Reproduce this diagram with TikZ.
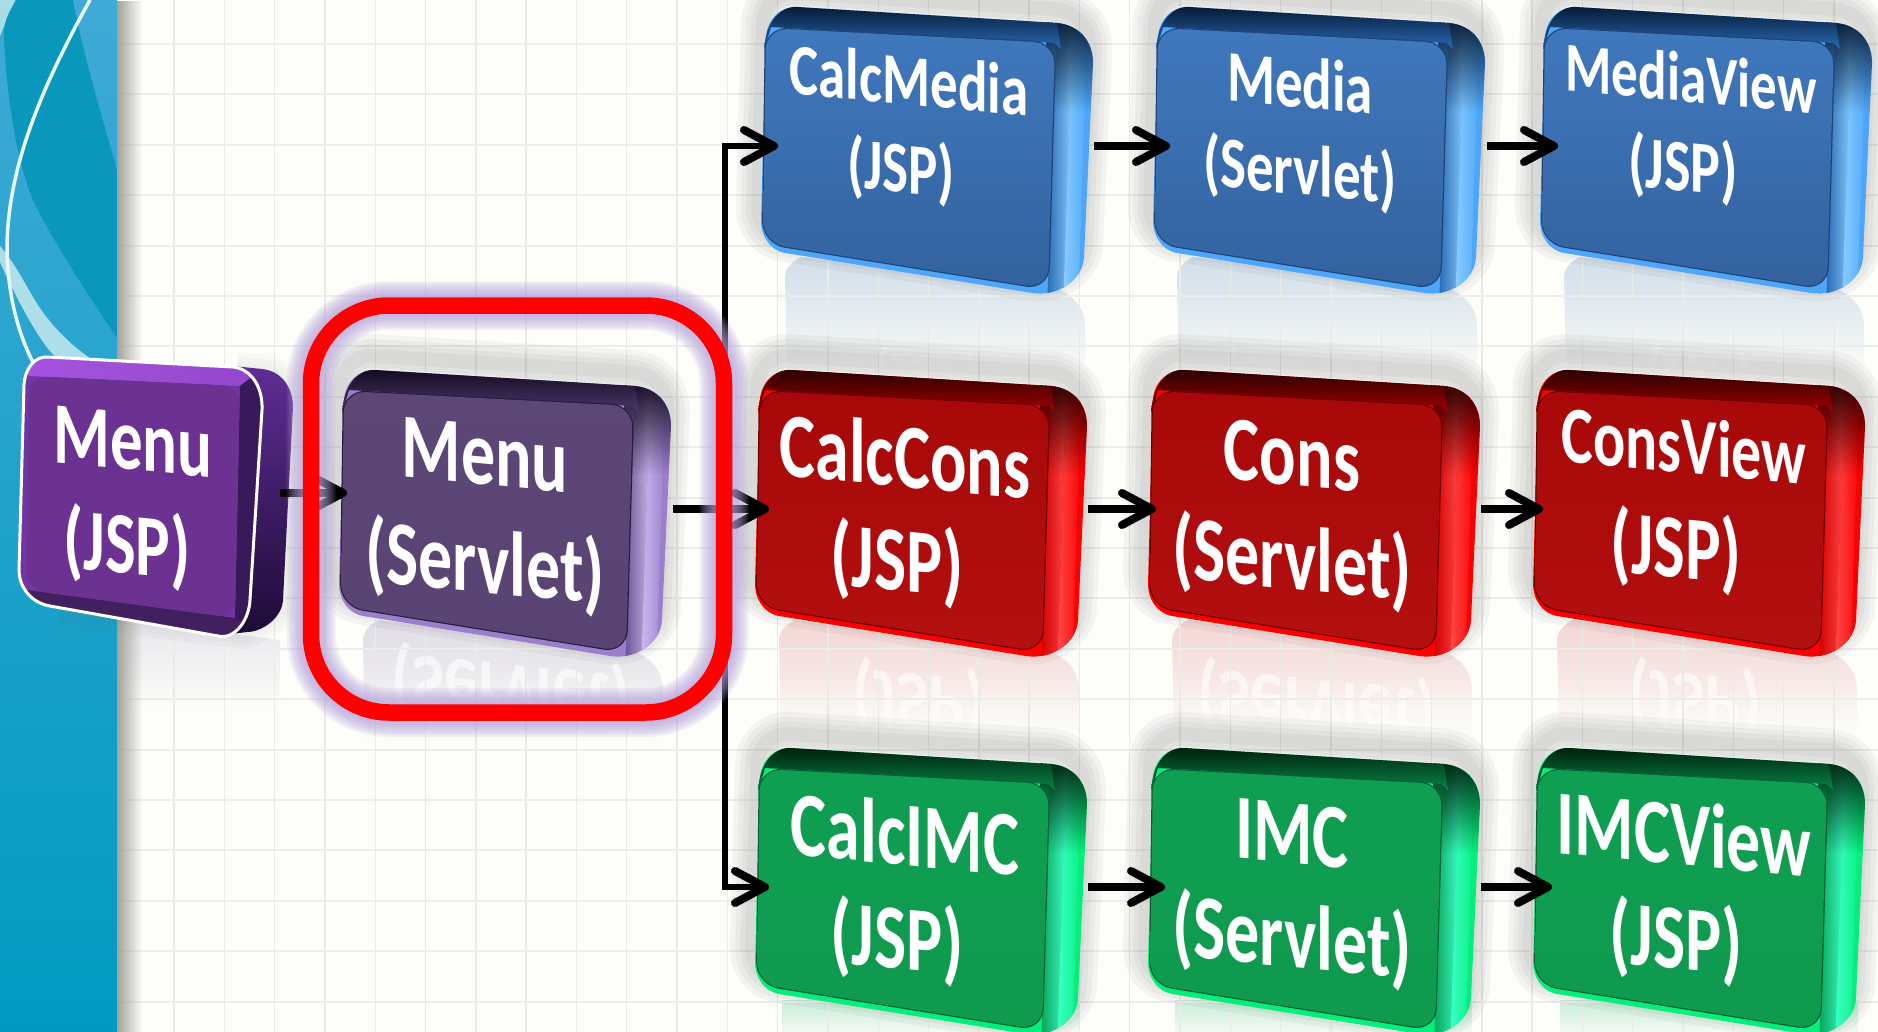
\documentclass[tikz,border=0pt]{standalone}
\usepackage{fontspec}
\setmainfont{Carlito}
\usetikzlibrary{arrows.meta,fadings}
% palettes
\definecolor{pagebg}{HTML}{FDFEFA}
\definecolor{gridc}{HTML}{EAEBE6}
\definecolor{bandtop}{HTML}{3FAAD6}\definecolor{bandbot}{HTML}{009AC0}\definecolor{bandpale}{HTML}{A9DDE6}
\definecolor{banddeep}{HTML}{0A97BC}\definecolor{bandwash}{HTML}{AEDFE8}\definecolor{bandarc}{HTML}{E8F7FB}
\definecolor{bandshadow}{HTML}{A3A39B}
\definecolor{jspside}{HTML}{5F2D94}\definecolor{jspsidem}{HTML}{2C134A}\definecolor{jspsideb}{HTML}{1D0B36}
\definecolor{jspleft}{HTML}{7236A3}\definecolor{jsptopa}{HTML}{A855E2}\definecolor{jsptopb}{HTML}{8F45C6}
\definecolor{jspbot}{HTML}{40205F}\definecolor{jspright}{HTML}{38195A}\definecolor{jspface}{HTML}{6B3292}
\definecolor{jsprefl}{HTML}{E8E6EE}
\definecolor{blueside}{HTML}{4DA6FA}\definecolor{bluedark}{HTML}{061A33}\definecolor{bluemid}{HTML}{2A6CBA}
\definecolor{bluefacet}{HTML}{4078BD}\definecolor{bluefaceb}{HTML}{33629E}\definecolor{blueline}{HTML}{1D4474}
\definecolor{bluehi}{HTML}{8ACDFF}\definecolor{blueshade}{HTML}{2A6AB4}\definecolor{bluerefl}{HTML}{D2DEEA}
\definecolor{redside}{HTML}{FA0000}\definecolor{reddark}{HTML}{250000}\definecolor{redmid}{HTML}{A80000}
\definecolor{redfacet}{HTML}{A80808}\definecolor{redfaceb}{HTML}{B31010}\definecolor{redline}{HTML}{6E0000}
\definecolor{redhi}{HTML}{FF4A4A}\definecolor{redshade}{HTML}{D40000}\definecolor{redrefl}{HTML}{F3D6D4}
\definecolor{greenside}{HTML}{04EE7C}\definecolor{greendark}{HTML}{001F0C}\definecolor{greenmid}{HTML}{068A48}
\definecolor{greenfacet}{HTML}{0F9F52}\definecolor{greenfaceb}{HTML}{0F9A4E}\definecolor{greenline}{HTML}{0A6034}
\definecolor{greenhi}{HTML}{3DFFC8}\definecolor{greenshade}{HTML}{09A45A}\definecolor{greenrefl}{HTML}{C8EDD9}
\definecolor{purpside}{HTML}{9B7FCC}\definecolor{purpdark}{HTML}{130A20}\definecolor{purpmid}{HTML}{4F3A6E}
\definecolor{purpfacet}{HTML}{5D4777}\definecolor{purpfaceb}{HTML}{594373}\definecolor{purpline}{HTML}{2A1C3C}
\definecolor{purphi}{HTML}{CBB9EE}\definecolor{purpshade}{HTML}{6C5494}\definecolor{purprefl}{HTML}{E0DCE6}
\definecolor{glowc}{HTML}{B49FDA}
\def\silpath{(36,0) -- (296,16) .. controls (318,18) and (332,34) .. (332,56) -- (323,250) .. controls (322,272) and (298,290) .. (271,286) -- (24,246) .. controls (8,243) and (0,228) .. (0,214) -- (5,30) .. controls (6,12) and (20,-1) .. (36,0) -- cycle}
\def\topband{(3,44) .. controls (4,14) and (20,-1) .. (36,0) -- (296,16) -- (300,42) -- (293,36) -- (10,20) -- cycle}
\def\facepath{[rounded corners=22] (5,21) -- (294,36) -- (287,282) -- (2,236) -- cycle}
\def\mirrorpath{(26,375) -- (24,270) .. controls (24,262) and (30,255) .. (40,250) -- (290,280) .. controls (310,285) and (324,300) .. (324,320) -- (324,375) -- cycle}
\def\jspfront{(48,357) -- (233,367) .. controls (252,369) and (263,388) .. (262,410) -- (250,600) .. controls (249,620) and (235,640) .. (218,636) -- (50,606) .. controls (32,603) and (19,588) .. (19,570) -- (24,385) .. controls (25,368) and (35,356) .. (48,357) -- cycle}
\tikzset{
  boxtext/.style={text=white,align=center,inner sep=0pt,yslant=-0.095,yscale=1.35},
  boxtextpurp/.style={boxtext},
  boxtextred/.style={boxtext},
  boxtextgreen/.style={boxtext},
  boxtextblue/.style={text=white,align=center,inner sep=0pt,yslant=-0.095,yscale=1.32},
  conn/.style={black,line width=8.5pt,-{Straight Barb[length=30pt,width=32pt,line width=8pt,round]}},
  branch/.style={black,line width=6.5pt,-{Straight Barb[length=30pt,width=32pt,line width=8pt,round]}},
}
% #1 name, #2 x, #3 y, #4 palette, #5 {size}{skip}, #6 cx, #7 cy, #8 line 1, #9 line 2
\newcommand{\cubebox}[9]{%
  \begin{scope}[shift={(#2,#3)}]
    \begin{scope}[yshift=14pt,xshift=-3pt]
      \foreach \wd in {44,34,24,14}{\draw[black!70,line width=\wd pt,opacity=.05,line join=round] \silpath;}
    \end{scope}
    \fill[#4side] \silpath;
    \begin{scope}
      \clip \silpath;
      \shade[xslant=0.033,left color=#4shade,right color=#4hi] (296,-10) rectangle (312,310);
      \shade[xslant=0.033,left color=#4hi,right color=#4side] (312,-10) rectangle (327,310);
      \fill[#4dark,path fading=south] (285,10) rectangle (340,105);
    \end{scope}
    \shade[top color=#4dark,bottom color=#4mid] \topband;
    \draw[#4line,line width=2.4pt] \facepath;
    \shade[top color=#4facet,bottom color=#4faceb] \facepath;
  \end{scope}
  \node[boxtext#4,font=\bfseries\fontsize#5\selectfont] (#1) at (#6,#7) {#8\\#9};
}
% #1 name, #2 x, #3 y, #4 palette, #5 {size}{skip}, #6 cx, #7 cy, #8 text, #9 fade start (relative y)
\newcommand{\mirrorbox}[9]{%
  \begin{scope}[shift={(#2,#3)}]
    \fill[#4refl,path fading=south] \mirrorpath;
  \end{scope}
  \node[text=white,text opacity=.6,inner sep=0pt,yslant=-0.095,yscale=-1.25,font=\bfseries\fontsize#5\selectfont] (#1) at (#6,#7) {#8};
  \begin{scope}[shift={(#2,#3)}]
    \fill[pagebg,path fading=north] (20,#9) rectangle (330,385);
  \end{scope}
}
\begin{document}
\begin{tikzpicture}[x=1pt,y=-1pt]
\useasboundingbox (0,0) rectangle (1878,1032);
\clip (0,0) rectangle (1878,1032);
% page
\fill[pagebg] (0,0) rectangle (1878,1032);
% reflections
\mirrorbox{mediaA-mirror}{761}{7}{blue}{{55}{70}}{928}{378}{(JSP)}{335}
\mirrorbox{mediaB-mirror}{1153}{7}{blue}{{55}{70}}{1320}{383}{(Servlet)}{335}
\mirrorbox{mediaC-mirror}{1540}{7}{blue}{{55}{70}}{1700}{378}{(JSP)}{335}
\mirrorbox{consA-mirror}{755}{370}{red}{{68}{80}}{919}{700}{(JSP)}{320}
\mirrorbox{consB-mirror}{1148}{370}{red}{{68}{80}}{1317}{705}{(Servlet)}{320}
\mirrorbox{consC-mirror}{1533}{370}{red}{{68}{80}}{1695}{700}{(JSP)}{320}
\fill[jsprefl,path fading=south] (120,620) -- (280,640) -- (280,710) -- (120,710) -- cycle;
\mirrorbox{menuS-mirror}{339}{370}{purp}{{68}{80}}{511}{690}{(Servlet)}{320}
\fill[greenrefl,path fading=south] (782,1000) rectangle (1080,1040);
\fill[greenrefl,path fading=south] (1175,1000) rectangle (1472,1040);
\fill[greenrefl,path fading=south] (1560,1000) rectangle (1858,1040);
% grid
\foreach \k in {0,...,33}{\draw[gridc,line width=1.4pt] ({174+50.3*\k},0) -- ({174+50.3*\k},1032);}
\foreach \k in {0,...,20}{\draw[gridc!85,line width=2pt] (117,{44+50.4*\k}) -- (1878,{44+50.4*\k});}
% left band
\shade[top color=bandtop,bottom color=bandbot] (0,0) rectangle (117,1032);
\fill[bandpale] (0,0) -- (15,0) -- (0,36) -- cycle;
\fill[banddeep] (17,0) .. controls (8,12) and (3,24) .. (4,38) .. controls (6,90) and (16,160) .. (33,200) .. controls (48,232) and (80,283) .. (117,338) -- (117,170) .. controls (100,110) and (82,50) .. (73,0) -- cycle;
\fill[bandwash] (0,246) .. controls (14,262) and (24,282) .. (36,302) .. controls (48,322) and (70,345) .. (90,358) -- (58,358) .. controls (44,352) and (12,290) .. (0,262) -- cycle;
\draw[bandarc,line width=3.5pt] (90,0) .. controls (40,90) and (7,170) .. (7,250) .. controls (8,300) and (20,340) .. (38,372);
\fill[bandshadow,path fading=east] (117,0) rectangle (142,1032);
% Menu (JSP)
\foreach \wd in {30,20,10}{\draw[black!60,line width=\wd pt,opacity=.03,line join=round] (237,367) -- (262,369) .. controls (282,371) and (293,388) .. (293,407) -- (283,613) -- (247,634) -- (60,612);}
\shade[top color=jspside,middle color=jspsidem,bottom color=jspsideb] (233,366) -- (262,369) .. controls (282,371) and (293,388) .. (293,407) -- (283,600) .. controls (282,618) and (262,632) .. (247,632) -- (215,636) -- cycle;
\fill[jspleft] \jspfront;
\begin{scope}
  \clip \jspfront;
  \shade[left color=jsptopa,right color=jsptopb] (0,340) -- (300,340) -- (240,386) -- (29,376) -- cycle;
  \fill[jspbot] (27,590) -- (235,618) -- (300,660) -- (0,640) -- cycle;
  \fill[jspright] (240,386) -- (300,340) -- (300,660) -- (235,618) -- cycle;
  \fill[jspface,rounded corners=18] (29,376) -- (240,386) -- (235,618) -- (27,590) -- cycle;
\end{scope}
\draw[white,line width=3pt] \jspfront;
\node[boxtext,font=\bfseries\fontsize{65}{77}\selectfont] (menuJ) at (133,500) {Menu\\(JSP)\hspace*{12pt}};
% boxes
\cubebox{menuS}{339}{370}{purp}{{68}{80}}{485}{516}{Menu}{(Servlet)}
\cubebox{mediaA}{761}{7}{blue}{{55}{67}}{909}{129}{CalcMedia}{(JSP)\hspace*{16pt}}
\cubebox{mediaB}{1153}{7}{blue}{{55}{66}}{1300}{131}{Media}{(Servlet)}
\cubebox{mediaC}{1540}{7}{blue}{{53}{68}}{1691}{128}{MediaView}{\fontsize{56}{68}\selectfont (JSP)\hspace*{16pt}}
\cubebox{consA}{755}{370}{red}{{68}{77}}{905}{514}{CalcCons}{(JSP)\hspace*{16pt}}
\cubebox{consB}{1148}{370}{red}{{68}{77}}{1292}{514}{Cons}{(Servlet)}
\cubebox{consC}{1533}{370}{red}{{60}{78}}{1684}{504}{ConsView}{\fontsize{67}{78}\selectfont (JSP)\hspace*{16pt}}
\cubebox{imcA}{755}{748}{green}{{68}{77}}{905}{892}{CalcIMC}{(JSP)\hspace*{16pt}}
\cubebox{imcB}{1148}{748}{green}{{68}{77}}{1292}{892}{IMC}{(Servlet)}
\cubebox{imcC}{1533}{748}{green}{{68}{77}}{1684}{892}{IMCView}{(JSP)\hspace*{16pt}}
% connector ports
\coordinate (menuJ-out) at (280,493);
\coordinate (menuS-in) at (347,493);
\coordinate (menuS-out) at (673,509);
\coordinate (mediaA-in) at (778,146);
\coordinate (mediaA-out) at (1094,146);
\coordinate (mediaB-in) at (1170,146);
\coordinate (mediaB-out) at (1487,146);
\coordinate (mediaC-in) at (1558,146);
\coordinate (consA-in) at (769,509);
\coordinate (consA-out) at (1088,509);
\coordinate (consB-in) at (1156,509);
\coordinate (consB-out) at (1481,509);
\coordinate (consC-in) at (1543,509);
\coordinate (imcA-in) at (769,887);
\coordinate (imcA-out) at (1088,887);
\coordinate (imcB-in) at (1165,887);
\coordinate (imcB-out) at (1481,887);
\coordinate (imcC-in) at (1552,887);
\coordinate (split) at (725,509);
% connectors
\draw[conn] (menuJ-out) -- (menuS-in);
\draw[conn] (menuS-out) -- (consA-in);
\draw[branch] (split) |- (mediaA-in);
\draw[branch] (split) |- (imcA-in);
\draw[conn] (mediaA-out) -- (mediaB-in);
\draw[conn] (mediaB-out) -- (mediaC-in);
\draw[conn] (consA-out) -- (consB-in);
\draw[conn] (consB-out) -- (consC-in);
\draw[conn] (imcA-out) -- (imcB-in);
\draw[conn] (imcB-out) -- (imcC-in);
% highlight frame
\foreach \wd in {49,45,41,37,33,29,25,21}{\draw[glowc,line width=\wd pt,opacity=.14,rounded corners=78pt] (311,305.5) rectangle (724,712.5);}
\draw[red,line width=16.5pt,rounded corners=78pt] (311,305.5) rectangle (724,712.5);
\end{tikzpicture}
\end{document}
